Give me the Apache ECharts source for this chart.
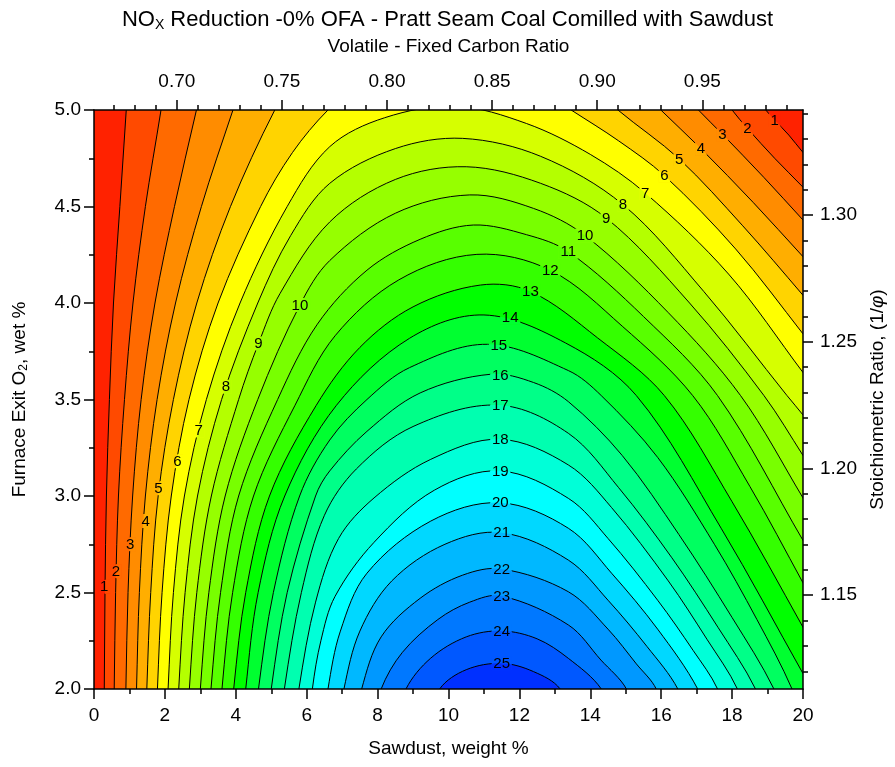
<!DOCTYPE html>
<html>
<head>
<meta charset="utf-8">
<script src="https://cdn.jsdelivr.net/npm/echarts@6/dist/echarts.min.js"></script>
<style>
  html, body { margin: 0; padding: 0; background: #fff; }
  #box { width: 895px; height: 767px; }
</style>
</head>
<body>
<div id="box"></div>
<script>
// contour levels, NOx reduction %
const levels = [1, 2, 3, 4, 5, 6, 7, 8, 9, 10, 11, 12, 13, 14, 15, 16, 17, 18, 19, 20, 21, 22, 23, 24, 25];

// contour lines, [sawdust wt %, furnace exit O2 %],
// traced from the bottom-left end to the other end (points past the frame are clipped)
const c01 = [[0.28,1.9],[0.29,2.0],[0.31,2.5],[0.35,3.0],[0.435,3.5],[0.55,4.0],[0.73,4.5],[0.91,5.0],[0.98,5.2],[18.3,5.15],[18.95,5.0],[19.2,4.948],[19.6,4.87],[20,4.78],[20.4,4.70]];
const c02 = [[0.56,1.9],[0.57,2.0],[0.61,2.5],[0.69,3.0],[0.86,3.5],[1.10,4.0],[1.45,4.5],[1.89,5.0],[2.05,5.2],[17.4,5.15],[18.0,5.0],[18.43,4.905],[19.2,4.75],[20,4.60],[20.4,4.52]];
const c03 = [[0.89,1.9],[0.90,2.0],[0.96,2.5],[1.09,3.0],[1.33,3.5],[1.72,4.0],[2.27,4.5],[2.89,5.0],[3.15,5.2],[16.3,5.15],[17.05,5.0],[17.73,4.874],[18.9,4.65],[20,4.43],[20.4,4.35]];
const c04 = [[1.19,1.9],[1.20,2.0],[1.28,2.5],[1.45,3.0],[1.78,3.5],[2.30,4.0],[3.03,4.5],[3.92,5.0],[4.3,5.2],[15.2,5.15],[15.99,5.0],[17.12,4.80],[18.6,4.52],[20,4.24],[20.4,4.16]];
const c05 = [[1.48,1.9],[1.49,2.0],[1.60,2.5],[1.81,3.0],[2.24,3.5],[2.90,4.0],[3.85,4.5],[5.10,5.0],[5.8,5.2],[13.9,5.15],[14.78,5.0],[16.51,4.746],[18.3,4.40],[20,4.04],[20.4,3.95]];
const c06 = [[1.78,1.9],[1.79,2.0],[1.92,2.5],[2.18,3.0],[2.68,3.5],[3.50,4.0],[4.70,4.5],[5.6,4.78],[6.6,5.0],[7.6,5.15],[12.2,5.15],[13.46,5.0],[14.8,4.84],[16.09,4.66],[18.1,4.28],[20,3.84],[20.4,3.74]];
const c07 = [[2.08,1.9],[2.09,2.0],[2.24,2.5],[2.55,3.0],[3.17,3.5],[4.12,4.0],[5.45,4.5],[6.65,4.81],[8.2,4.96],[10.2,5.02],[12.2,4.93],[14.0,4.77],[15.55,4.57],[17.9,4.15],[20,3.64],[20.4,3.54]];
const c08 = [[2.38,1.9],[2.39,2.0],[2.57,2.5],[2.92,3.0],[3.60,3.5],[4.62,4.0],[5.55,4.35],[6.65,4.62],[8.5,4.80],[10.4,4.853],[12.6,4.76],[14.92,4.51],[17.2,4.06],[19.55,3.52],[20,3.42],[20.4,3.32]];
const c09 = [[2.68,1.9],[2.69,2.0],[2.90,2.5],[3.31,3.0],[4.08,3.5],[4.64,3.79],[5.25,4.05],[6.65,4.42],[8.5,4.64],[10.5,4.706],[12.6,4.62],[14.45,4.44],[16.8,4.0],[18.9,3.52],[20,3.21],[20.4,3.09]];
const c10 = [[2.99,1.9],[3.00,2.0],[3.24,2.5],[3.70,3.0],[4.62,3.5],[5.81,3.99],[6.65,4.22],[8.5,4.465],[10.6,4.56],[12.4,4.49],[13.85,4.35],[16.2,3.95],[18.24,3.52],[20,2.99],[20.4,2.86]];
const c11 = [[3.29,1.9],[3.30,2.0],[3.57,2.5],[4.08,3.0],[5.18,3.5],[6.3,3.89],[7.7,4.17],[9.2,4.33],[10.7,4.404],[12.2,4.354],[13.38,4.266],[15.5,3.93],[17.59,3.52],[20,2.77],[20.4,2.64]];
const c12 = [[3.60,1.9],[3.61,2.0],[3.91,2.5],[4.50,3.0],[5.67,3.47],[6.8,3.83],[8.6,4.12],[10.8,4.252],[12.87,4.17],[14.9,3.88],[16.89,3.52],[18.5,3.05],[20,2.55],[20.4,2.41]];
const c13 = [[3.93,1.9],[3.94,2.0],[4.28,2.5],[4.95,3.0],[6.27,3.47],[7.5,3.77],[9.0,3.98],[10.9,4.093],[12.31,4.06],[14.2,3.82],[16.09,3.52],[18.0,2.97],[20,2.32],[20.4,2.18]];
const c14 = [[4.27,1.9],[4.28,2.0],[4.63,2.5],[5.38,3.0],[6.84,3.47],[8.9,3.817],[11.0,3.938],[13.3,3.793],[15.30,3.52],[17.7,2.83],[20,2.08],[20.4,1.95]];
const c15 = [[4.63,1.9],[4.64,2.0],[5.06,2.5],[5.8,3.0],[6.65,3.29],[7.7,3.50],[8.9,3.665],[11.1,3.786],[13.38,3.65],[14.31,3.52],[15.9,3.20],[17.5,2.75],[18.7,2.36],[19.69,2.0],[19.78,1.9]];
const c16 = [[4.99,1.9],[5.0,2.0],[5.45,2.5],[6.25,3.0],[6.65,3.13],[7.7,3.335],[9.2,3.534],[11.2,3.631],[12.4,3.588],[13.38,3.489],[14.9,3.21],[16.5,2.8],[18.0,2.37],[19.18,2.0],[19.25,1.9]];
const c17 = [[5.36,1.9],[5.37,2.0],[5.85,2.5],[6.5,2.9],[7.4,3.14],[9.0,3.36],[11.4,3.471],[13.38,3.325],[14.8,3.043],[16.3,2.68],[17.6,2.32],[18.66,2.0],[18.72,1.9]];
const c18 = [[5.77,1.9],[5.78,2.0],[6.25,2.45],[6.9,2.78],[7.9,2.99],[9.5,3.19],[11.45,3.294],[13.38,3.161],[14.6,2.94],[16.2,2.56],[17.3,2.255],[18.15,2.0],[18.2,1.9]];
const c19 = [[6.15,1.9],[6.16,2.0],[6.4,2.25],[6.8,2.48],[7.9,2.76],[9.6,3.03],[11.45,3.13],[13.38,2.988],[14.5,2.78],[15.9,2.46],[16.9,2.2],[17.59,2.0],[17.65,1.9]];
const c20 = [[6.58,1.9],[6.6,2.0],[6.95,2.3],[7.7,2.6],[9.5,2.87],[11.45,2.965],[13.38,2.833],[14.6,2.6],[15.9,2.31],[17.03,2.0],[17.08,1.9]];
const c21 = [[7.03,1.9],[7.05,2.0],[7.5,2.3],[8.4,2.56],[9.9,2.75],[11.5,2.81],[13.38,2.668],[14.5,2.46],[15.6,2.22],[16.47,2.0],[16.52,1.9]];
const c22 = [[7.53,1.9],[7.55,2.0],[8.1,2.27],[9.2,2.47],[10.4,2.59],[11.5,2.622],[13.38,2.504],[14.5,2.31],[15.3,2.13],[15.86,2.0],[15.9,1.9]];
const c23 = [[8.08,1.9],[8.1,2.0],[8.7,2.19],[9.7,2.36],[10.6,2.45],[11.5,2.482],[13.38,2.332],[14.3,2.15],[15.02,2.0],[15.06,1.9]];
const c24 = [[8.78,1.9],[8.8,2.0],[9.5,2.16],[10.5,2.27],[11.5,2.301],[12.5,2.26],[13.38,2.159],[14.31,2.0],[14.35,1.9]];
const c25 = [[9.73,1.9],[9.75,2.0],[10.5,2.10],[11.5,2.133],[12.4,2.09],[13.15,2.0],[13.18,1.9]];
const contours = [c01, c02, c03, c04, c05, c06, c07, c08, c09, c10, c11, c12, c13, c14, c15, c16, c17, c18, c19, c20, c21, c22, c23, c24, c25];

// contour labels: level and where it sits
const labelLevel = [1, 2, 3, 4, 5, 6, 7, 8, 9, 10, 1, 2, 3, 4, 5, 6, 7, 8, 9, 10, 11, 12, 13, 14, 15, 16, 17, 18, 19, 20, 21, 22, 23, 24, 25];
const labelX = [0.29, 0.62, 1.02, 1.46, 1.82, 2.35, 2.95, 3.72, 4.64, 5.81, 19.2, 18.43, 17.73, 17.12, 16.51, 16.09, 15.55, 14.92, 14.45, 13.85, 13.38, 12.87, 12.31, 11.74, 11.42, 11.46, 11.46, 11.46, 11.46, 11.46, 11.5, 11.5, 11.5, 11.5, 11.5];
const labelY = [2.53, 2.61, 2.75, 2.87, 3.04, 3.18, 3.34, 3.566, 3.79, 3.99, 4.948, 4.905, 4.874, 4.80, 4.746, 4.66, 4.57, 4.51, 4.44, 4.35, 4.266, 4.17, 4.06, 3.924, 3.783, 3.627, 3.471, 3.294, 3.13, 2.965, 2.81, 2.622, 2.482, 2.301, 2.133];

// fill of each band (below level 1, 1-2, ..., above 25)
const bandColors = ['#FF2200', '#FF4A00', '#FF6A00', '#FF8C00', '#FFAE00', '#FFD400', '#FFFF00', '#D6FF00', '#B4FF00', '#96FF00', '#78FF00', '#58FF00', '#34FF00', '#00FF00', '#00FF30', '#00FF60', '#00FF88', '#00FFB0', '#00FFD8', '#00FFFF', '#00D8FF', '#00B8FF', '#0098FF', '#0078FF', '#0058FF', '#0030FF'];

// top axis: volatile / fixed carbon ratio, right axis: stoichiometric ratio
const vfMin = 0.6606, vfMax = 0.9979;
const vfLabels = [0.70, 0.75, 0.80, 0.85, 0.90, 0.95];
const vfMinor = [0.67, 0.68, 0.69, 0.71, 0.72, 0.73, 0.74, 0.76, 0.77, 0.78, 0.79, 0.81, 0.82, 0.83, 0.84, 0.86, 0.87, 0.88, 0.89, 0.91, 0.92, 0.93, 0.94, 0.96, 0.97, 0.98, 0.99];
const srMin = 1.113, srMax = 1.3415;
const srLabels = [1.15, 1.20, 1.25, 1.30];
const srMinor = [1.12, 1.13, 1.14, 1.16, 1.17, 1.18, 1.19, 1.21, 1.22, 1.23, 1.24, 1.26, 1.27, 1.28, 1.29, 1.31, 1.32, 1.33, 1.34];

const font = '"Liberation Sans", Arial, sans-serif';

function toPx(api, pts) {
  return pts.map(p => api.coord(p));
}

// smooth curve through the traced points: bezier with chord-scaled tangents
function curve(p) {
  const n = p.length;
  const tan = p.map((q, i) => {
    const a = p[Math.max(i - 1, 0)], b = p[Math.min(i + 1, n - 1)];
    const dx = b[0] - a[0], dy = b[1] - a[1], l = Math.hypot(dx, dy) || 1;
    return [dx / l, dy / l];
  });
  let d = 'M' + p[0][0] + ' ' + p[0][1];
  for (let i = 0; i < n - 1; i++) {
    const b = p[i], c = p[i + 1];
    const s = Math.hypot(c[0] - b[0], c[1] - b[1]) / 3;
    d += ' C' + (b[0] + tan[i][0] * s) + ' ' + (b[1] + tan[i][1] * s) +
      ' ' + (c[0] - tan[i + 1][0] * s) + ' ' + (c[1] - tan[i + 1][1] * s) +
      ' ' + c[0] + ' ' + c[1];
  }
  return d;
}

// region where the value is above the level: contour closed under the bottom edge
function region(api, pts) {
  const first = pts[0], last = pts[pts.length - 1];
  const a = api.coord([last[0], 1]), b = api.coord([first[0], 1]);
  return curve(toPx(api, pts)) + ' L' + a[0] + ' ' + a[1] + ' L' + b[0] + ' ' + b[1] + ' Z';
}

const axisLine = { lineStyle: { color: '#000', width: 1.5 } };
const tickStyle = { color: '#000', width: 1.5 };
const labelStyle = { color: '#000', fontSize: 19, fontFamily: font };
const nameStyle = { color: '#000', fontSize: 19, fontFamily: font };

const chart = echarts.init(document.getElementById('box'));
chart.setOption({
  animation: false,
  backgroundColor: '#fff',
  title: {
    text: 'NO{sub|X} Reduction -0% OFA - Pratt Seam Coal Comilled with Sawdust',
    left: 'center',
    top: 2,
    textStyle: {
      color: '#000', fontSize: 22, fontWeight: 'normal', fontFamily: font,
      rich: { sub: { fontSize: 14, fontFamily: font, color: '#000', padding: [11, 0, 0, 0] } }
    }
  },
  grid: { left: 94, right: 90, top: 110, bottom: 78, show: true, backgroundColor: bandColors[0], borderWidth: 0 },
  xAxis: [
    {
      type: 'value', position: 'bottom', min: 0, max: 20, interval: 2, z: 10,
      axisLine: axisLine,
      axisTick: { length: 10, lineStyle: tickStyle },
      minorTick: { show: true, splitNumber: 2, length: 5, lineStyle: tickStyle },
      axisLabel: Object.assign({ margin: 17 }, labelStyle),
      splitLine: { show: false },
      name: 'Sawdust, weight %', nameLocation: 'middle', nameGap: 50, nameTextStyle: nameStyle
    },
    {
      type: 'value', position: 'top', min: vfMin, max: vfMax, z: 10,
      axisLine: axisLine,
      axisTick: { length: 10, lineStyle: tickStyle, customValues: vfLabels },
      axisLabel: Object.assign({ margin: 19, customValues: vfLabels, formatter: v => v.toFixed(2) }, labelStyle),
      splitLine: { show: false },
      name: 'Volatile - Fixed Carbon Ratio', nameLocation: 'middle', nameGap: 54, nameTextStyle: nameStyle
    },
    {
      type: 'value', position: 'top', min: vfMin, max: vfMax, z: 10,
      axisLine: { show: false },
      axisTick: { length: 5, lineStyle: tickStyle, customValues: vfMinor },
      axisLabel: { show: false },
      splitLine: { show: false }
    }
  ],
  yAxis: [
    {
      type: 'value', position: 'left', min: 2, max: 5, interval: 0.5, z: 10,
      axisLine: axisLine,
      axisTick: { length: 10, lineStyle: tickStyle },
      minorTick: { show: true, splitNumber: 2, length: 5, lineStyle: tickStyle },
      axisLabel: Object.assign({ margin: 13, formatter: v => v.toFixed(1) }, labelStyle),
      splitLine: { show: false },
      name: 'Furnace Exit O{sub|2}, wet %', nameLocation: 'middle', nameGap: 64,
      nameTextStyle: Object.assign({ rich: { sub: { fontSize: 12, fontFamily: font, color: '#000', padding: [9, 0, 0, 0] } } }, nameStyle)
    },
    {
      type: 'value', position: 'right', min: srMin, max: srMax, z: 10,
      axisLine: axisLine,
      axisTick: { length: 10, lineStyle: tickStyle, customValues: srLabels },
      axisLabel: Object.assign({ margin: 17, customValues: srLabels, formatter: v => v.toFixed(2) }, labelStyle),
      splitLine: { show: false },
      name: 'Stoichiometric Ratio, (1/{i|φ})', nameLocation: 'middle', nameGap: 65,
      nameTextStyle: Object.assign({ rich: { i: { fontStyle: 'italic', fontSize: 19, fontFamily: font, color: '#000' } } }, nameStyle)
    },
    {
      type: 'value', position: 'right', min: srMin, max: srMax, z: 10,
      axisLine: { show: false },
      axisTick: { length: 5, lineStyle: tickStyle, customValues: srMinor },
      axisLabel: { show: false },
      splitLine: { show: false }
    }
  ],
  series: [
    {
      // filled bands
      type: 'custom', clip: true, silent: true,
      data: levels.map(v => [v]),
      renderItem: (params, api) => ({
        type: 'path',
        shape: { pathData: region(api, contours[params.dataIndex]) },
        style: { fill: bandColors[params.dataIndex + 1] }
      })
    },
    {
      // contour lines
      type: 'custom', clip: true, silent: true,
      data: levels.map(v => [v]),
      renderItem: (params, api) => ({
        type: 'path',
        shape: { pathData: curve(toPx(api, contours[params.dataIndex])) },
        style: { fill: 'none', stroke: '#000', lineWidth: 1 }
      })
    },
    {
      // level labels, with the line cut out behind them
      type: 'custom', clip: true, silent: true,
      data: labelLevel.map((k, i) => [labelX[i], labelY[i]]),
      renderItem: (params, api) => {
        const k = labelLevel[params.dataIndex];
        const c = api.coord([labelX[params.dataIndex], labelY[params.dataIndex]]);
        const txt = String(k);
        const w = txt.length * 8.6 + 3, h = 14;
        const r = { x: c[0] - w / 2, y: c[1] - h / 2, width: w, height: h };
        return {
          type: 'group',
          clipPath: { type: 'rect', shape: r },
          children: [
            { type: 'rect', shape: r, style: { fill: bandColors[k - 1] } },
            { type: 'path', shape: { pathData: region(api, contours[k - 1]) }, style: { fill: bandColors[k] } },
            {
              type: 'text', x: c[0], y: c[1] + 0.5,
              style: { text: txt, fill: '#000', fontSize: 15, fontFamily: font, align: 'center', verticalAlign: 'middle' }
            }
          ]
        };
      }
    }
  ]
});
</script>
</body>
</html>
